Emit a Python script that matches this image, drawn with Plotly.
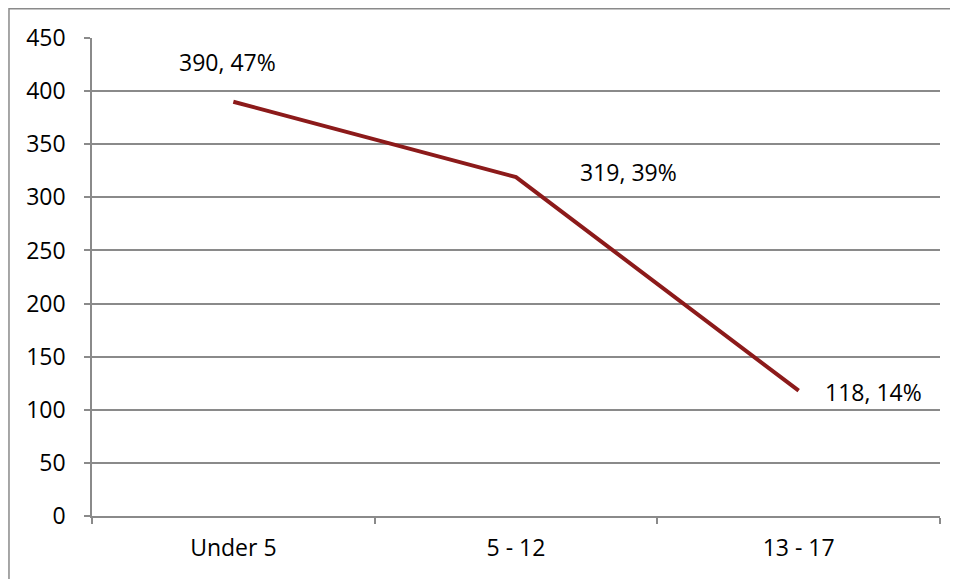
import plotly.graph_objects as go

age_groups = ["Under 5", "5 - 12", "13 - 17"]
counts = [390, 319, 118]
shares = ["47%", "39%", "14%"]

line_color = "#8C1A1A"
grid_color = "#8A8A8A"
font_family = "Open Sans, Noto Sans, sans-serif"

fig = go.Figure()
fig.add_trace(go.Scatter(x=age_groups, y=counts, mode="lines",
                         line=dict(color=line_color, width=4), hoverinfo="x+y"))

# data labels, offset like the Excel ones
label_shift = [(-6, 40), (112, 5), (75, -1)]
for cat, val, pct, (dx, dy) in zip(age_groups, counts, shares, label_shift):
    fig.add_annotation(x=cat, y=val, text=f"{val}, {pct}", showarrow=False,
                       xshift=dx, yshift=dy, font=dict(size=23, color="#000000"))

# outer chart border (top edge kept just inside the svg)
fig.add_shape(type="rect", xref="paper", yref="paper",
              x0=-0.0979, y0=-0.3, x1=1.2, y1=1.0612,
              line=dict(color="#8A8A8A", width=1.5), layer="below")

# page body has an 8px margin, so margins are trimmed to keep the plot area in place
fig.update_layout(
    width=958, height=579,
    margin=dict(l=84, r=26, t=30, b=71),
    paper_bgcolor="white", plot_bgcolor="white",
    showlegend=False,
    font=dict(family=font_family, size=23, color="#000000"),
    xaxis=dict(type="category", range=[-0.5, 2.5], tickson="boundaries",
               ticks="outside", ticklen=6, tickcolor=grid_color, tickwidth=1.5,
               showline=True, linecolor=grid_color, linewidth=1.5,
               showgrid=False, ticklabelstandoff=11),
    yaxis=dict(range=[0, 450], dtick=50, ticks="outside", ticklen=6,
               tickcolor=grid_color, tickwidth=1.5,
               showline=True, linecolor=grid_color, linewidth=1.5,
               showgrid=True, gridcolor=grid_color, gridwidth=1.5,
               zeroline=False, ticklabelstandoff=14),
)

fig.write_html("out.html")
